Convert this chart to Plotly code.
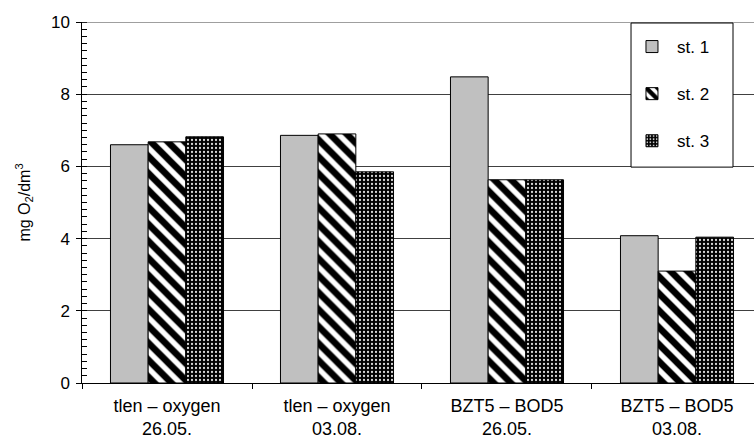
import plotly.graph_objects as go

categories = ["tlen – oxygen<br>26.05.", "tlen – oxygen<br>03.08.",
              "BZT5 – BOD5<br>26.05.", "BZT5 – BOD5<br>03.08."]
st1 = [6.60, 6.86, 8.48, 4.08]
st2 = [6.68, 6.90, 5.63, 3.10]
st3 = [6.82, 5.85, 5.63, 4.04]
series_names = ["st. 1", "st. 2", "st. 3"]

fig = go.Figure()
fig.add_trace(go.Bar(x=categories, y=st1, name=series_names[0], legendgroup="a",
                     marker=dict(color="#c0c0c0", line=dict(color="black", width=1))))
fig.add_trace(go.Bar(x=categories, y=st2, name=series_names[1], legendgroup="b",
                     marker=dict(color="white", line=dict(color="black", width=1),
                                 pattern=dict(shape="\\", fgcolor="black", bgcolor="white",
                                              fgopacity=1, size=12, solidity=0.55))))
fig.add_trace(go.Bar(x=categories, y=st3, name=series_names[2], legendgroup="c",
                     marker=dict(color="black", line=dict(color="black", width=1),
                                 pattern=dict(shape=".", fgcolor="#d8d8d8", bgcolor="black",
                                              fgopacity=1, size=4, solidity=0.25))))
# invisible helper trace so the label axis (y2) is drawn
fig.add_trace(go.Scatter(x=[categories[0]], y=[st1[0]], yaxis="y2", mode="markers",
                         marker=dict(opacity=0), showlegend=False, hoverinfo="skip"))

fig.update_layout(
    width=754, height=438,
    margin=dict(l=70, r=0, t=22, b=55),
    plot_bgcolor="white", paper_bgcolor="white",
    barmode="group", bargap=0.335, bargroupgap=0,
    font=dict(family="Liberation Sans, Arial", size=17, color="black"),
    legend=dict(x=0.8143, y=0.9806, xanchor="left", yanchor="top",
                borderwidth=0, bgcolor="rgba(0,0,0,0)",
                tracegroupgap=22, itemwidth=40, font=dict(size=17)),
    xaxis=dict(domain=[12 / 684, 1], range=[-0.5, 3.453], showline=True, linecolor="black",
               linewidth=1, ticks="outside", ticklen=5, tickcolor="black", tickson="boundaries",
               showgrid=False, tickfont=dict(size=18), ticklabelstandoff=6),
    yaxis=dict(range=[0, 10], dtick=2, showline=True, linecolor="black", linewidth=1,
               ticks="outside", ticklen=5, tickcolor="black", showticklabels=False,
               showgrid=True, gridcolor="#404040", gridwidth=1, zeroline=False,
               minor=dict(dtick=0.2, ticks="inside", ticklen=5, tickcolor="black", showgrid=False)),
    yaxis2=dict(overlaying="y", matches="y", anchor="free", position=0, side="left",
                range=[0, 10], dtick=2, showline=False, ticks="", showgrid=False,
                zeroline=False, tickfont=dict(size=17),
                title=dict(text="mg O<sub>2</sub>/dm<sup>3</sup>", font=dict(size=16), standoff=15)),
)
fig.add_shape(type="line", xref="x domain", yref="y", x0=0, x1=1, y0=10, y1=10,
              line=dict(color="#404040", width=1))
fig.add_shape(type="rect", xref="paper", yref="paper", x0=0.8202, x1=0.9693, y0=0.598, y1=0.9972,
              line=dict(color="black", width=1), fillcolor="white", layer="above")

fig.write_html("out.html")
